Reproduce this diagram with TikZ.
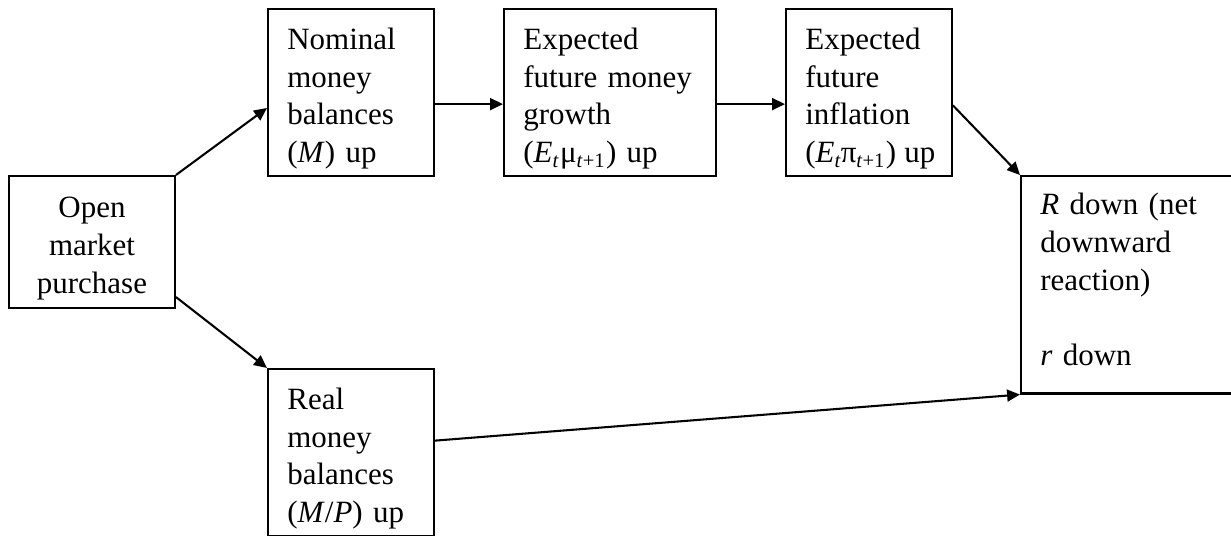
\documentclass[tikz,border=0pt]{standalone}
\usepackage{fontspec}
\setmainfont{Liberation Serif}
\usetikzlibrary{arrows.meta}

\begin{document}
\begin{tikzpicture}[x=0.3876pt, y=-0.3876pt,
    boxnode/.style={draw, line width=0.8pt, anchor=north west, inner xsep=7.5pt, inner ysep=2pt,
        align=left, minimum height=64.7pt, font=\fontsize{12pt}{14.6pt}\selectfont,
        execute at begin node=\rule{0pt}{13pt}},
    narrow/.style={minimum width=64.3pt, text width=49.3pt},
    link/.style={-{Triangle[length=5pt, width=4.6pt]}, line width=0.8pt}]
    \useasboundingbox (0,0) rectangle (1231,536);
    \clip (0,0) rectangle (1231,536);

    \node[boxnode, narrow, align=center, minimum height=51.2pt] (open) at (8,175) {Open\\ market\\ purchase};

    \node[boxnode, narrow] (nom) at (267,8) {Nominal\\ money\\ balances\\ (\textit{M})~up};

    \node[boxnode, minimum width=82.2pt, text width=67.2pt] (grow) at (503,8) {Expected\\ future money\\ growth\\ (\textit{E}\textsubscript{\textit{t}}μ\textsubscript{\textit{t}+1})~up};

    \node[boxnode, narrow] (infl) at (785,8) {Expected\\ future\\ inflation\\ (\textit{E}\textsubscript{\textit{t}}\kern-0.5ptπ\textsubscript{\textit{t}+1})\kern-0.8pt~up};

    \node[boxnode, narrow] (real) at (267,368) {Real\\ money\\ balances\\ (\textit{M}/\textit{P})~up};

    \node[boxnode, minimum width=100pt, text width=85pt] (rdown) at (1020,175) {\textit{R} down (net\\ downward\\ reaction)\\[14.6pt] \textit{r} down\rule[-8.9pt]{0pt}{8.9pt}};

    \draw[link] (open.north east) -- ([yshift=-6pt]nom.west);
    \draw[link] ([yshift=4.7pt]open.south east) -- (real.north west);
    \draw[link] ([yshift=-4.5pt]nom.east) -- ([yshift=-4.5pt]grow.west);
    \draw[link] ([yshift=-4.5pt]grow.east) -- ([yshift=-4.5pt]infl.west);
    \draw[link] ([yshift=-5pt]infl.east) -- (rdown.north west);
    \draw[link] ([yshift=4.6pt]real.east) -- (rdown.south west);
\end{tikzpicture}
\end{document}
